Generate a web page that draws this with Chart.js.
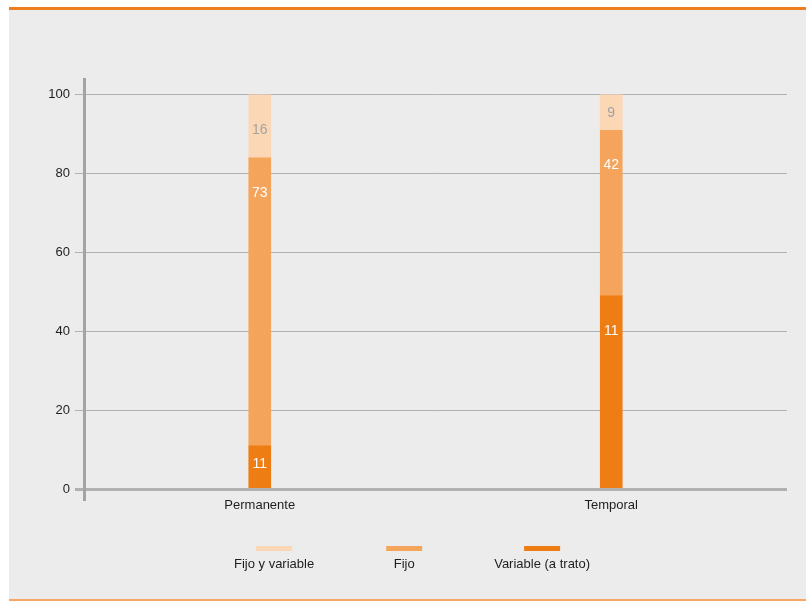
<!DOCTYPE html>
<html>
<head>
<meta charset="utf-8">
<script src="https://cdn.jsdelivr.net/npm/chart.js@4/dist/chart.umd.min.js"></script>
<style>
  html, body { margin: 0; padding: 0; background: #ffffff; }
  #wrap { position: absolute; left: 0; top: 0; width: 806px; height: 601px; }
</style>
</head>
<body>
<div id="wrap"><canvas id="c" width="806" height="601"></canvas></div>
<script>
const categories = ['Permanente', 'Temporal'];
const seriesNames = ['Variable (a trato)', 'Fijo', 'Fijo y variable'];
const variableValues = [11, 49];
const fijoValues = [73, 42];
const fijoVariableValues = [16, 9];
// Text printed on the segments, as shown in the source
const variableLabels = ['11', '11'];
const fijoLabels = ['73', '42'];
const fijoVariableLabels = ['16', '9'];
const yTicks = [0, 20, 40, 60, 80, 100];

const FONT = "'Liberation Sans', Arial, sans-serif";
const colors = ['#ee7d14', '#f4a55b', '#fbd7b6'];
const labelColors = ['#ffffff', '#ffffff', '#a3a3a3'];

const frame = {
  id: 'frame',
  beforeDraw(chart) {
    const ctx = chart.ctx;
    ctx.save();
    ctx.fillStyle = '#ffffff';
    ctx.fillRect(0, 0, 806, 601);
    ctx.fillStyle = '#ebeceb';
    ctx.fillRect(9, 10, 797, 589);
    ctx.fillStyle = '#ef7f1c';
    ctx.fillRect(9, 7, 797, 3);
    ctx.fillStyle = '#f5a764';
    ctx.fillRect(9, 599, 797, 2);
    ctx.restore();
  }
};

const segLabels = {
  id: 'segLabels',
  afterDatasetsDraw(chart) {
    const ctx = chart.ctx;
    const texts = [variableLabels, fijoLabels, fijoVariableLabels];
    ctx.save();
    ctx.font = '14px ' + FONT;
    ctx.textAlign = 'center';
    ctx.textBaseline = 'middle';
    chart.data.datasets.forEach((ds, i) => {
      const meta = chart.getDatasetMeta(i);
      meta.data.forEach((el, j) => {
        const top = Math.min(el.y, el.base);
        const h = Math.abs(el.base - el.y);
        const off = h > 50 ? 35 : 18;
        ctx.fillStyle = labelColors[i];
        ctx.fillText(texts[i][j], el.x, top + off);
      });
    });
    ctx.restore();
  }
};

const bottomLegend = {
  id: 'bottomLegend',
  afterDraw(chart) {
    const ctx = chart.ctx;
    ctx.save();
    ctx.font = '13px ' + FONT;
    const items = chart.data.datasets.map((d, i) => ({ label: d.label, color: d.backgroundColor })).reverse();
    const sw = 36, gap = 72;
    const widths = items.map(it => Math.max(sw, ctx.measureText(it.label).width));
    const total = widths.reduce((a, b) => a + b, 0) + gap * (items.length - 1);
    let x = 412 - total / 2;
    ctx.textAlign = 'center';
    ctx.textBaseline = 'middle';
    items.forEach((it, k) => {
      const cx = x + widths[k] / 2;
      ctx.fillStyle = it.color;
      ctx.fillRect(cx - sw / 2, 546, sw, 5);
      ctx.fillStyle = '#1e1e1e';
      ctx.fillText(it.label, cx, 564);
      x += widths[k] + gap;
    });
    ctx.restore();
  }
};

new Chart(document.getElementById('c'), {
  type: 'bar',
  data: {
    labels: categories,
    datasets: [
      { label: seriesNames[0], data: variableValues, backgroundColor: colors[0] },
      { label: seriesNames[1], data: fijoValues, backgroundColor: colors[1] },
      { label: seriesNames[2], data: fijoVariableValues, backgroundColor: colors[2] }
    ]
  },
  options: {
    responsive: false,
    animation: false,
    devicePixelRatio: 1,
    layout: { padding: { top: 79, right: 19, bottom: 0, left: 0 } },
    datasets: { bar: { barThickness: 22, borderWidth: 0 } },
    plugins: { legend: { display: false }, tooltip: { enabled: false } },
    scales: {
      x: {
        stacked: true,
        grid: { display: false, drawTicks: false },
        border: { display: false },
        ticks: { color: '#1e1e1e', font: { family: FONT, size: 13 }, padding: -1 },
        afterFit(s) { s.height = 102; }
      },
      y: {
        stacked: true,
        min: -2.5,
        max: 104,
        afterBuildTicks(s) { s.ticks = yTicks.map(v => ({ value: v })); },
        afterFit(s) { s.width = 84; },
        border: { display: true, color: '#a3a3a3', width: 3 },
        grid: {
          color: '#b0b0b0',
          lineWidth: c => (c.tick && c.tick.value === 0 ? 3 : 1),
          tickLength: 9,
          drawTicks: true
        },
        ticks: { color: '#1e1e1e', font: { family: FONT, size: 13 }, padding: 5 }
      }
    }
  },
  plugins: [frame, segLabels, bottomLegend]
});
</script>
</body>
</html>
